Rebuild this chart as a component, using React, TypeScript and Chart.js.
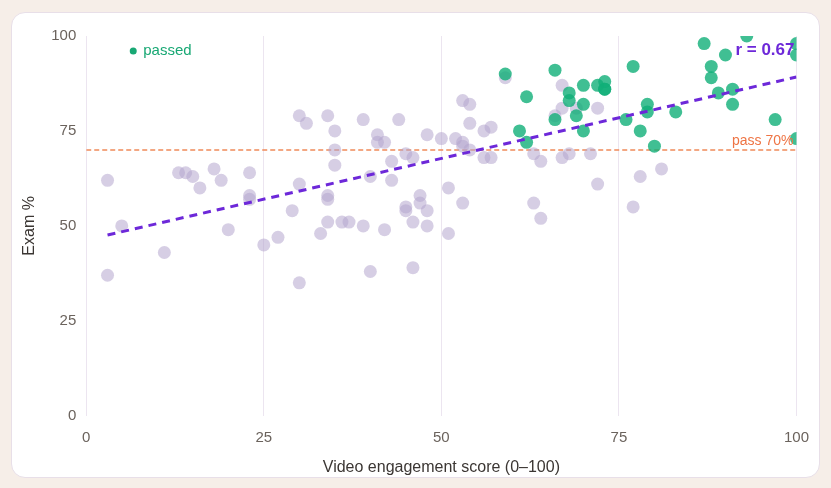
import { useRef, useEffect } from 'react';
import Chart from 'chart.js/auto';

// students who passed (engagement, exam %)
const passedX = [59, 62, 61, 62, 66, 68, 68, 66, 69, 70, 70, 70, 72, 73, 73, 73, 77, 76, 78, 79, 79, 80, 83, 87, 93, 90, 88, 88, 89, 91, 91, 100, 100, 97, 100];
const passedY = [90, 84, 75, 72, 91, 85, 83, 78, 79, 87, 82, 75, 87, 88, 86, 86, 92, 78, 75, 82, 80, 71, 80, 98, 100, 95, 92, 89, 85, 86, 82, 98, 95, 78, 73];

// everyone else
const otherX = [3, 5, 3, 11, 13, 14, 15, 16, 18, 19, 20, 23, 23, 23, 25, 27, 29, 30, 30, 31, 30, 33, 34, 35, 35, 35, 34, 34, 34, 36, 37, 39, 39, 41, 41, 42, 43, 43, 40, 40, 44, 45, 46, 45, 45, 47, 47, 48, 46, 48, 46, 42, 48, 50, 51, 51, 53, 54, 54, 52, 53, 53, 54, 53, 56, 57, 56, 57, 59, 63, 64, 63, 64, 67, 67, 66, 69, 72, 67, 68, 71, 72, 78, 81, 77];
const otherY = [62, 50, 37, 43, 64, 64, 63, 60, 65, 62, 49, 64, 58, 57, 45, 47, 54, 61, 79, 77, 35, 48, 79, 75, 70, 66, 58, 57, 51, 51, 51, 78, 50, 74, 72, 72, 67, 62, 63, 38, 78, 69, 68, 55, 54, 58, 56, 54, 51, 50, 39, 49, 74, 73, 60, 48, 83, 82, 77, 73, 72, 71, 70, 56, 75, 76, 68, 68, 89, 69, 67, 56, 52, 87, 81, 79, 81, 81, 68, 69, 69, 61, 63, 65, 55];

// least squares fit, end points
const trendX = [3, 100];
const trendY = [47.6, 89.2];

const passMark = 70;
const rLabel = 'r = 0.67';
const axisTicks = [0, 25, 50, 75, 100];

const violet = '#6d28d9';
const orange = '#ef8a5a';
const green = '#18a874';
const fontFamily = '"Liberation Sans", Arial, sans-serif';

const overlayText = {
  id: 'overlayText',
  afterDatasetsDraw(chart: Chart) {
    const { ctx, chartArea } = chart;
    const y = chart.scales.y;
    ctx.save();
    // small legend
    ctx.fillStyle = green;
    ctx.beginPath();
    ctx.arc(chartArea.left + 47, chartArea.top + 15, 3.5, 0, Math.PI * 2);
    ctx.fill();
    ctx.font = `15px ${fontFamily}`;
    ctx.textBaseline = 'middle';
    ctx.textAlign = 'left';
    ctx.fillText('passed', chartArea.left + 57, chartArea.top + 15);
    // correlation
    ctx.fillStyle = violet;
    ctx.font = `bold 17px ${fontFamily}`;
    ctx.textAlign = 'right';
    ctx.fillText(rLabel, chartArea.right - 2, chartArea.top + 14);
    // pass line label
    ctx.fillStyle = '#ee7444';
    ctx.font = `14px ${fontFamily}`;
    ctx.textBaseline = 'alphabetic';
    ctx.fillText(`pass ${passMark}%`, chartArea.right - 3, y.getPixelForValue(passMark) - 5);
    ctx.restore();
  },
};

const ScatterChart = () => {
  const chartRef = useRef<HTMLCanvasElement | null>(null);
  const chartInstance = useRef<Chart | null>(null);

  useEffect(() => {
    if (!chartRef.current) return;

    if (chartInstance.current) {
      chartInstance.current.destroy();
    }

    chartInstance.current = new Chart(chartRef.current, {
      type: 'scatter',
      data: {
        datasets: [
          {
            type: 'line',
            label: 'trend',
            data: trendX.map((x, i) => ({ x, y: trendY[i] })),
            borderColor: violet,
            borderWidth: 3,
            borderDash: [8, 6],
            pointRadius: 0,
            fill: false,
          },
          {
            label: 'passed',
            data: passedX.map((x, i) => ({ x, y: passedY[i] })),
            backgroundColor: 'rgba(16, 175, 120, 0.8)',
            borderWidth: 0,
            pointRadius: 6.5,
          },
          {
            label: 'other',
            data: otherX.map((x, i) => ({ x, y: otherY[i] })),
            backgroundColor: 'rgba(180, 165, 205, 0.55)',
            borderWidth: 0,
            pointRadius: 6.5,
          },
          {
            type: 'line',
            label: 'pass',
            data: [
              { x: 0, y: passMark },
              { x: 100, y: passMark },
            ],
            borderColor: orange,
            borderWidth: 1.5,
            borderDash: [5, 3],
            pointRadius: 0,
            fill: false,
          },
        ],
      },
      options: {
        animation: false,
        responsive: true,
        maintainAspectRatio: false,
        layout: { padding: { top: 23, left: 2, right: 19, bottom: 0 } },
        plugins: {
          legend: { display: false },
          tooltip: { enabled: false },
        },
        scales: {
          x: {
            type: 'linear',
            min: 0,
            max: 100,
            afterBuildTicks: (axis) => {
              axis.ticks = axisTicks.map((value) => ({ value }));
            },
            grid: { color: '#ece5f0', drawTicks: false },
            border: { display: false },
            ticks: { color: '#6b635d', padding: 13, font: { size: 15, family: fontFamily } },
            title: {
              display: true,
              text: 'Video engagement score (0–100)',
              color: '#3b3633',
              font: { size: 16, family: fontFamily },
              padding: { top: -2, bottom: 0 },
            },
          },
          y: {
            type: 'linear',
            min: 0,
            max: 100,
            afterBuildTicks: (axis) => {
              axis.ticks = axisTicks.map((value) => ({ value }));
            },
            grid: { display: false, drawTicks: false },
            border: { display: false },
            ticks: { color: '#6b635d', padding: 10, font: { size: 15, family: fontFamily } },
            title: {
              display: true,
              text: 'Exam %',
              color: '#3b3633',
              font: { size: 16, family: fontFamily },
              padding: { top: 6, bottom: 2 },
            },
          },
        },
      },
      plugins: [overlayText],
    });

    return () => {
      if (chartInstance.current) {
        chartInstance.current.destroy();
        chartInstance.current = null;
      }
    };
  }, []);

  return <canvas ref={chartRef}></canvas>;
};

export default function App() {
  return (
    <div style={{ position: 'fixed', inset: 0, background: '#f6eee8' }}>
      <div
        style={{
          position: 'absolute',
          left: 11,
          top: 12,
          width: 809,
          height: 466,
          background: '#fff',
          border: '1px solid #e8dfe8',
          borderRadius: 14,
          boxSizing: 'border-box',
        }}
      >
        <div style={{ position: 'absolute', left: 0, top: 0, bottom: 0, right: -3 }}>
          <ScatterChart />
        </div>
      </div>
    </div>
  );
}
